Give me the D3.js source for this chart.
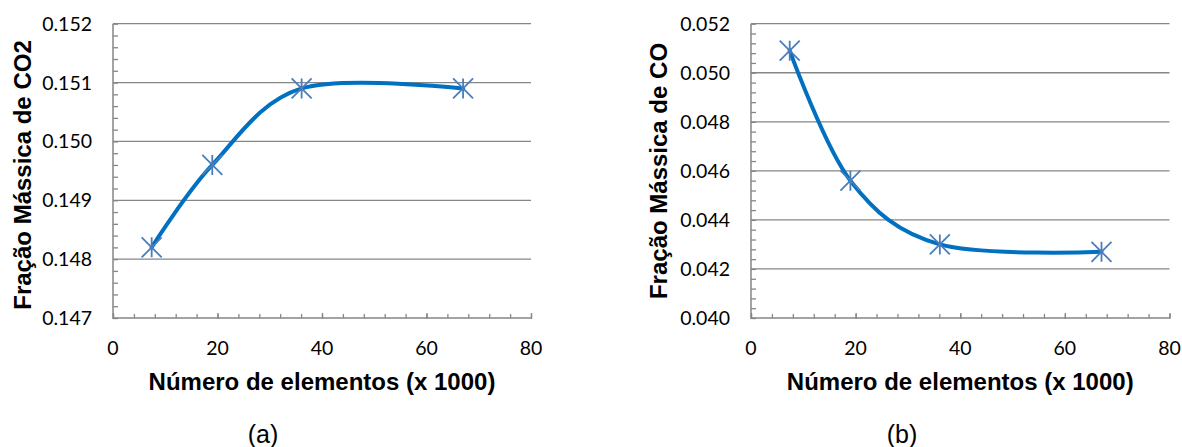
<!DOCTYPE html>
<html>
<head>
<meta charset="utf-8">
<script src="https://cdn.jsdelivr.net/npm/d3@7"></script>
<style>
  html, body { margin: 0; padding: 0; background: #fff; }
  svg { display: block; }
</style>
</head>
<body>
<svg id="chart" width="1182" height="447"></svg>
<script>
// Mesh size (thousands of elements) shared by both panels
const elementsK = [7.4, 19.0, 36.1, 67.0];
const xTickValues = [0, 20, 40, 60, 80];

// Panel (a): CO2 mass fraction
const co2Fraction = [0.1482, 0.1496, 0.1509, 0.1509];
const co2Ticks = [0.147, 0.148, 0.149, 0.150, 0.151, 0.152];

// Panel (b): CO mass fraction
const coFraction = [0.0509, 0.0456, 0.0430, 0.0427];
const coTicks = [0.040, 0.042, 0.044, 0.046, 0.048, 0.050, 0.052];

const xTitle = "Número de elementos (x 1000)";

const svg = d3.select("#chart");

const GRID = "#868686";
const LINE = "#0070c0";
const MARK = "#4a7ebb";
const TICK_FONT = "Lato, 'Open Sans', sans-serif";
const TITLE_FONT = "'Liberation Sans', Arial, sans-serif";

function drawPanel(p) {
  const x = d3.scaleLinear().domain([0, 80]).range([p.left, p.right]);
  const y = d3.scaleLinear().domain(p.yDomain).range([p.bottom, p.top]);
  const g = svg.append("g");

  // horizontal gridlines at major ticks (bottom one is the axis itself)
  g.append("g").selectAll("line")
    .data(p.yTicks.slice(1))
    .join("line")
    .attr("x1", p.left).attr("x2", p.right)
    .attr("y1", d => y(d)).attr("y2", d => y(d))
    .attr("stroke", GRID).attr("stroke-width", 1.3);

  // y axis: minor ticks inside, labels on the left
  const yMinor = d3.range(0, 5 * (p.yTicks.length - 1) + 1)
    .map(i => p.yDomain[0] + i * (p.yDomain[1] - p.yDomain[0]) / (5 * (p.yTicks.length - 1)));
  const yAxis = d3.axisRight(y).tickValues(yMinor).tickSize(5).tickFormat("");
  g.append("g").attr("transform", `translate(${p.left},0)`).call(yAxis)
    .call(s => s.select(".domain").remove())
    .call(s => s.selectAll(".tick line").attr("stroke", GRID).attr("stroke-width", 1.3));
  g.append("line")
    .attr("x1", p.left).attr("x2", p.left)
    .attr("y1", y(p.yDomain[1])).attr("y2", y(p.yDomain[0]) + 1)
    .attr("stroke", GRID).attr("stroke-width", 1.5);
  g.append("g").selectAll("text")
    .data(p.yTicks)
    .join("text")
    .attr("x", p.left - 21)
    .attr("y", d => y(d))
    .attr("dy", "0.36em")
    .attr("text-anchor", "end")
    .attr("font-family", TICK_FONT)
    .attr("font-size", 19.5)
    .attr("fill", "#000")
    .text(d => d3.format(".3f")(d));

  // x axis: minor ticks every 4, major every 20, all pointing up
  const xMinor = d3.range(0, 81, 4);
  const xAxis = d3.axisTop(x).tickValues(xMinor).tickSize(4).tickFormat("");
  g.append("g").attr("transform", `translate(0,${p.bottom})`).call(xAxis)
    .call(s => s.select(".domain").remove())
    .call(s => s.selectAll(".tick line").attr("stroke", GRID).attr("stroke-width", 1.3));
  const xMajor = d3.axisTop(x).tickValues(xTickValues).tickSize(6).tickFormat("");
  g.append("g").attr("transform", `translate(0,${p.bottom + 1})`).call(xMajor)
    .call(s => s.select(".domain").remove())
    .call(s => s.selectAll(".tick line").attr("stroke", GRID).attr("stroke-width", 1.3));
  g.append("line")
    .attr("x1", p.left).attr("x2", p.right)
    .attr("y1", p.bottom).attr("y2", p.bottom)
    .attr("stroke", GRID).attr("stroke-width", 1.5);
  g.append("g").selectAll("text")
    .data(xTickValues)
    .join("text")
    .attr("x", d => x(d))
    .attr("y", p.bottom + 30)
    .attr("dy", "0.36em")
    .attr("text-anchor", "middle")
    .attr("font-family", TICK_FONT)
    .attr("font-size", 19.5)
    .attr("fill", "#000")
    .text(d => d);

  // smoothed series line
  const pts = elementsK.map((v, i) => [v, p.values[i]]);
  const line = d3.line()
    .x(d => x(d[0])).y(d => y(d[1]))
    .curve(d3.curveCardinal.tension(0));
  g.append("path")
    .datum(pts)
    .attr("d", line)
    .attr("fill", "none")
    .attr("stroke", LINE)
    .attr("stroke-width", 4)
    .attr("stroke-linecap", "round");

  // asterisk markers
  const r = 10;
  const star = `M${-r},${-r}L${r},${r}M${-r},${r}L${r},${-r}M0,${-r}L0,${r}`;
  g.append("g").selectAll("path")
    .data(pts)
    .join("path")
    .attr("transform", d => `translate(${x(d[0])},${y(d[1])})`)
    .attr("d", star)
    .attr("fill", "none")
    .attr("stroke", MARK)
    .attr("stroke-width", 1.8);

  // axis titles
  g.append("text")
    .attr("x", (p.left + p.right) / 2)
    .attr("y", p.bottom + 72)
    .attr("text-anchor", "middle")
    .attr("font-family", TITLE_FONT)
    .attr("font-weight", "bold")
    .attr("font-size", 24)
    .attr("fill", "#000")
    .text(xTitle);
  g.append("text")
    .attr("transform", `translate(${p.yTitleX},${p.yTitleY}) rotate(-90)`)
    .attr("text-anchor", "middle")
    .attr("font-family", TITLE_FONT)
    .attr("font-weight", "bold")
    .attr("font-size", 24)
    .attr("fill", "#000")
    .text(p.yTitle);

  // panel letter
  svg.append("text")
    .attr("x", p.letterX)
    .attr("y", 443)
    .attr("text-anchor", "middle")
    .attr("font-family", TITLE_FONT)
    .attr("font-size", 25)
    .attr("fill", "#000")
    .text(p.letter);
}

drawPanel({
  left: 113, right: 531, top: 23.7, bottom: 318,
  yDomain: [0.147, 0.152], yTicks: co2Ticks, values: co2Fraction,
  yTitle: "Fração Mássica de CO2", yTitleX: 31, yTitleY: 175,
  letter: "(a)", letterX: 263
});

drawPanel({
  left: 751, right: 1169.5, top: 23.7, bottom: 318,
  yDomain: [0.040, 0.052], yTicks: coTicks, values: coFraction,
  yTitle: "Fração Mássica de CO", yTitleX: 667, yTitleY: 171,
  letter: "(b)", letterX: 902
});
</script>
</body>
</html>
